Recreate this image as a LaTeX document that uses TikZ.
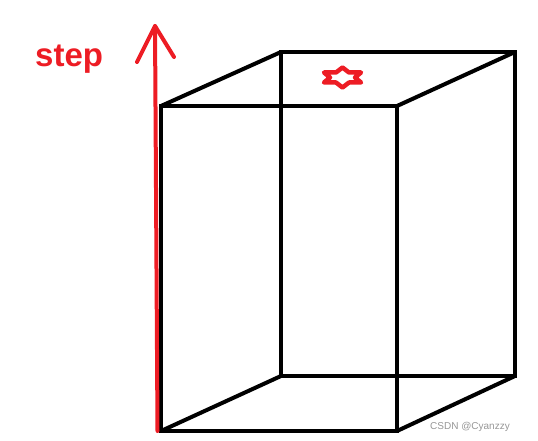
\documentclass[tikz,border=0pt]{standalone}
\usepackage{fontspec}
\newfontfamily\labelfont{Liberation Sans}
\definecolor{paintred}{RGB}{237,28,36}
\definecolor{markgray}{RGB}{150,150,150}
\tikzset{
  edge/.style={draw=black, line width=4pt},
  redline/.style={draw=paintred, line width=4pt, line cap=round, line join=round},
}

\begin{document}
\begin{tikzpicture}[x=1pt,y=1pt,yscale=-1,xscale=1]
\useasboundingbox (0,0) rectangle (538,441);

%Corners of the box
\coordinate (ftl) at (161,106);
\coordinate (ftr) at (397,106);
\coordinate (fbr) at (397,431);
\coordinate (fbl) at (161,431);
\coordinate (btl) at (281,52);
\coordinate (btr) at (515,52);
\coordinate (bbr) at (515,376);
\coordinate (bbl) at (281,376);

%Back face
\draw [edge] (btl) -- (btr) -- (bbr) -- (bbl) -- cycle ;
%Front face
\draw [edge] (ftl) -- (ftr) -- (fbr) -- (fbl) -- cycle ;
%Straight Lines
\draw [edge] (ftl) -- (btl) ;
\draw [edge] (ftr) -- (btr) ;
\draw [edge] (fbr) -- (bbr) ;
\draw [edge] (fbl) -- (bbl) ;

%Red arrow
\coordinate (tail) at (157.5,431);
\coordinate (tip) at (155,26);
\coordinate (wingl) at (137,62);
\coordinate (wingr) at (174,57);
\draw [redline] (tail) -- (tip) ;
\draw [redline] (wingl) -- (tip) -- (wingr) ;

%Star
\draw [redline, line width=4.5pt] (342.5,67.5) -- (349,72.5) -- (361,72.5) -- (355,77.5) -- (361,82.5) -- (349,82.5) -- (342.5,87.5) -- (336,82.5) -- (324,82.5) -- (330,77.5) -- (324,72.5) -- (336,72.5) -- cycle ;

% Text Node
\node (steplabel) [anchor=base west, inner sep=0pt, text=paintred, font=\labelfont\bfseries\fontsize{33}{36}\selectfont] at (35,67) {step};
% Text Node
\node (mark) [anchor=base east, inner sep=0pt, text=markgray, font=\labelfont\fontsize{10}{12}\selectfont] at (510,429) {CSDN @Cyanzzy};

\end{tikzpicture}
\end{document}
